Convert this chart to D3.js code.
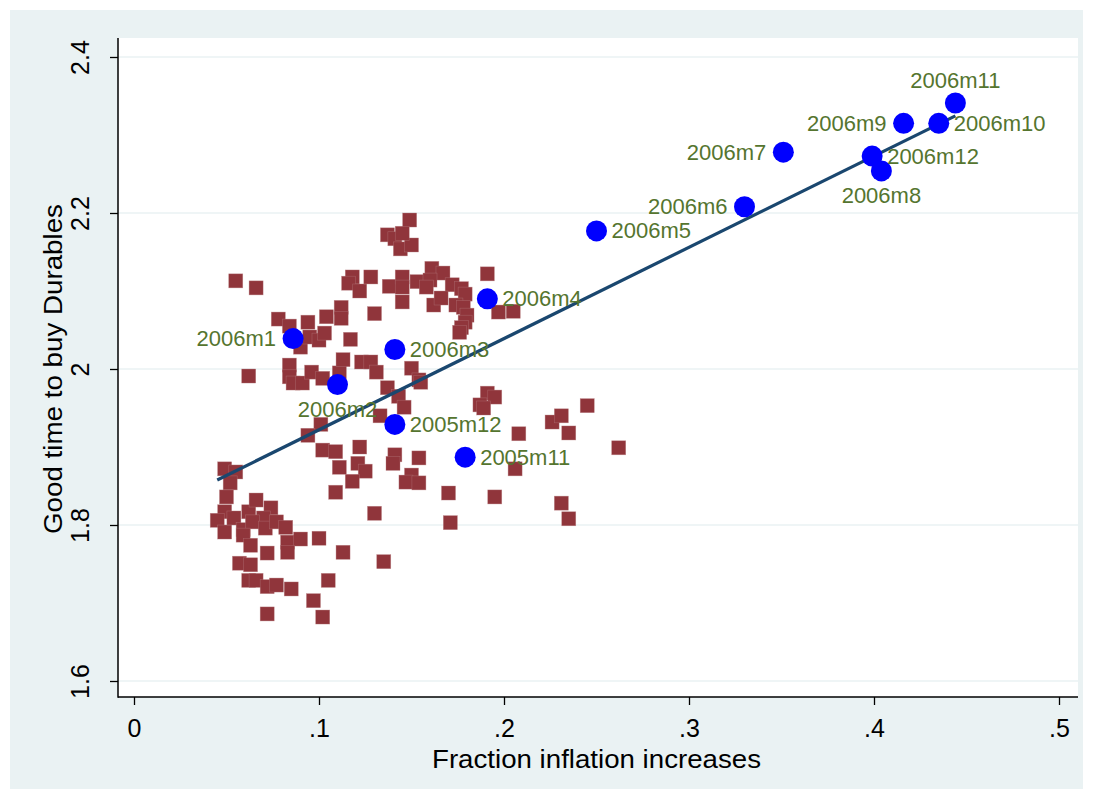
<!DOCTYPE html>
<html><head><meta charset="utf-8">
<script src="https://cdn.jsdelivr.net/npm/d3@7"></script>
<style>html,body{margin:0;padding:0;background:#fff;} svg{display:block;}</style>
</head><body>
<svg id="chart" width="1093" height="799"></svg>
<script>
// ---- data ----
const redX = [0.055,0.066,0.078,0.084,0.094,0.104,0.112,0.112,0.090,0.095,
 0.100,0.103,0.117,0.084,0.084,0.086,0.091,0.096,0.102,0.111,
 0.113,0.123,0.128,0.131,0.062,0.118,0.116,0.122,0.128,0.130,
 0.149,0.137,0.141,0.144,0.150,0.145,0.138,0.145,0.145,0.153,
 0.161,0.167,0.160,0.158,0.172,0.177,0.179,0.145,0.162,0.166,
 0.174,0.178,0.180,0.179,0.177,0.176,0.191,0.197,0.205,0.150,
 0.154,0.137,0.143,0.146,0.155,0.133,0.101,0.094,0.102,0.109,
 0.122,0.111,0.121,0.125,0.118,0.109,0.141,0.140,0.154,0.150,
 0.147,0.154,0.170,0.130,0.171,0.191,0.195,0.187,0.189,0.208,
 0.226,0.231,0.235,0.245,0.262,0.206,0.195,0.231,0.235,0.049,
 0.055,0.052,0.050,0.049,0.045,0.049,0.054,0.059,0.062,0.066,
 0.074,0.070,0.064,0.071,0.077,0.082,0.059,0.063,0.083,0.090,
 0.083,0.072,0.100,0.113,0.057,0.063,0.062,0.066,0.072,0.077,
 0.085,0.105,0.097,0.072,0.102,0.135];
const redY = [2.113,2.104,2.064,2.055,2.060,2.067,2.079,2.065,2.028,2.041,
 2.037,2.046,2.038,2.005,1.990,1.982,1.982,1.996,1.988,1.995,
 2.012,2.009,2.009,1.996,1.991,2.118,2.110,2.100,2.118,2.071,
 2.191,2.172,2.167,2.154,2.159,2.174,2.106,2.118,2.105,2.112,
 2.129,2.123,2.114,2.105,2.108,2.103,2.096,2.086,2.082,2.091,
 2.082,2.079,2.069,2.060,2.053,2.047,2.122,2.073,2.074,2.001,
 1.986,1.976,1.965,1.951,1.983,1.940,1.929,1.915,1.896,1.894,
 1.900,1.874,1.879,1.869,1.856,1.842,1.890,1.879,1.886,1.864,
 1.855,1.854,1.841,1.815,1.803,1.969,1.964,1.954,1.950,1.917,
 1.932,1.940,1.918,1.953,1.899,1.872,1.836,1.828,1.808,1.872,
 1.868,1.854,1.836,1.817,1.806,1.791,1.809,1.794,1.817,1.832,
 1.822,1.809,1.804,1.796,1.804,1.797,1.787,1.774,1.778,1.782,
 1.765,1.764,1.783,1.765,1.751,1.749,1.729,1.729,1.721,1.723,
 1.718,1.729,1.703,1.686,1.682,1.753];

const blueLabels = ["2005m11","2005m12","2006m1","2006m2","2006m3","2006m4","2006m5",
                    "2006m6","2006m7","2006m8","2006m9","2006m10","2006m11","2006m12"];
const blueX = [0.179,0.141,0.086,0.110,0.141,0.191,0.250,0.330,0.351,0.404,0.416,0.435,0.444,0.399];
const blueY = [1.887,1.929,2.039,1.980,2.025,2.090,2.177,2.208,2.278,2.254,2.315,2.315,2.341,2.273];
// marker-label clock positions (Stata mlabvposition)
const blueLabelClock = [3,3,9,6,3,3,3,9,9,6,9,3,12,3];

const fitIntercept = 1.805;
const fitSlope = 1.170;

const xTickValues = [0, 0.1, 0.2, 0.3, 0.4, 0.5];
const xTickLabels = ["0", ".1", ".2", ".3", ".4", ".5"];
const yTickValues = [1.6, 1.8, 2.0, 2.2, 2.4];
const yTickLabels = ["1.6", "1.8", "2", "2.2", "2.4"];

const xTitle = "Fraction inflation increases";
const yTitle = "Good time to buy Durables";

// ---- layout ----
const W = 1093, H = 799;
const plot = {left: 118, right: 1078, top: 38, bottom: 697};
const FONT = "'Liberation Sans', Arial, Helvetica, sans-serif";
const svg = d3.select("#chart");

svg.append("rect").attr("x",0).attr("y",0).attr("width",W).attr("height",H).attr("fill","#ffffff");
svg.append("rect").attr("x",10).attr("y",10).attr("width",1073).attr("height",779).attr("fill","#eaf2f3");
svg.append("rect").attr("x",plot.left).attr("y",plot.top)
  .attr("width",plot.right-plot.left).attr("height",plot.bottom-plot.top).attr("fill","#ffffff");

const x = d3.scaleLinear().domain([0, 0.5]).range([134, 1059]);
const y = d3.scaleLinear().domain([1.6, 2.4]).range([681, 57]);

// gridlines
svg.append("g").selectAll("line").data(yTickValues).join("line")
  .attr("x1", plot.left).attr("x2", plot.right)
  .attr("y1", d => y(d)).attr("y2", d => y(d))
  .attr("stroke", "#eaf2f3").attr("stroke-width", 1.6);

// y axis
const yAxis = svg.append("g").attr("transform", `translate(${plot.left},0)`)
  .call(d3.axisLeft(y).tickValues(yTickValues).tickFormat((d,i)=>yTickLabels[i]).tickSize(8).tickSizeOuter(0));
yAxis.select(".domain").remove();
yAxis.selectAll(".tick line").attr("stroke","#000").attr("stroke-width",1.3);
yAxis.selectAll(".tick text")
  .attr("x", null).attr("dy", null)
  .attr("transform", "translate(-29,0) rotate(-90)")
  .attr("text-anchor", "middle")
  .attr("fill", "#000")
  .style("font-family", FONT).style("font-size", "25px");

// x axis
const xAxis = svg.append("g").attr("transform", `translate(0,${plot.bottom})`)
  .call(d3.axisBottom(x).tickValues(xTickValues).tickFormat((d,i)=>xTickLabels[i]).tickSize(8).tickSizeOuter(0));
xAxis.select(".domain").remove();
xAxis.selectAll(".tick line").attr("stroke","#000").attr("stroke-width",1.3);
xAxis.selectAll(".tick text")
  .attr("y", 40).attr("dy", null)
  .attr("fill", "#000")
  .style("font-family", FONT).style("font-size", "25px");

// axis lines
svg.append("line").attr("x1",plot.left).attr("x2",plot.left).attr("y1",plot.top).attr("y2",plot.bottom+0.7)
  .attr("stroke","#000").attr("stroke-width",1.5);
svg.append("line").attr("x1",plot.left).attr("x2",plot.right).attr("y1",plot.bottom).attr("y2",plot.bottom)
  .attr("stroke","#000").attr("stroke-width",1.5);

// titles
svg.append("text").attr("x", 596.5).attr("y", 768).attr("text-anchor","middle")
  .style("font-family", FONT).style("font-size","26px").attr("fill","#000")
  .attr("textLength", 329).attr("lengthAdjust","spacingAndGlyphs")
  .text(xTitle);
svg.append("text").attr("transform","translate(62,369) rotate(-90)").attr("text-anchor","middle")
  .style("font-family", FONT).style("font-size","26px").attr("fill","#000")
  .attr("textLength", 330).attr("lengthAdjust","spacingAndGlyphs")
  .text(yTitle);

// red squares
const red = redX.map((v,i)=>({x:v, y:redY[i]}));
const S = 14;
svg.append("g").selectAll("rect").data(red).join("rect")
  .attr("x", d => x(d.x) - S/2).attr("y", d => y(d.y) - S/2)
  .attr("width", S).attr("height", S)
  .attr("fill", "#90353b").attr("stroke","#b57a7d").attr("stroke-width",0.6).attr("stroke-opacity",0.6);

// fitted line
const allX = redX.concat(blueX);
const xMin = d3.min(allX), xMax = d3.max(allX);
svg.append("line")
  .attr("x1", x(xMin)).attr("y1", y(fitIntercept + fitSlope*xMin))
  .attr("x2", x(xMax)).attr("y2", y(fitIntercept + fitSlope*xMax))
  .attr("stroke", "#1a476f").attr("stroke-width", 3.2);

// blue circles
const blue = blueX.map((v,i)=>({x:v, y:blueY[i], label:blueLabels[i], clock:blueLabelClock[i]}));
svg.append("g").selectAll("circle").data(blue).join("circle")
  .attr("cx", d => x(d.x)).attr("cy", d => y(d.y)).attr("r", 10.5)
  .attr("fill", "#0000ff");

// labels
svg.append("g").selectAll("text").data(blue).join("text")
  .style("font-family", FONT).style("font-size","22px").attr("fill","#55752f")
  .attr("text-anchor", d => d.clock===3 ? "start" : d.clock===9 ? "end" : "middle")
  .attr("x", d => x(d.x) + (d.clock===3 ? 15 : d.clock===9 ? -17 : 0))
  .attr("y", d => y(d.y) + (d.clock===12 ? -15 : d.clock===6 ? 32 : 7.5))
  .text(d => d.label);
</script>
</body></html>
